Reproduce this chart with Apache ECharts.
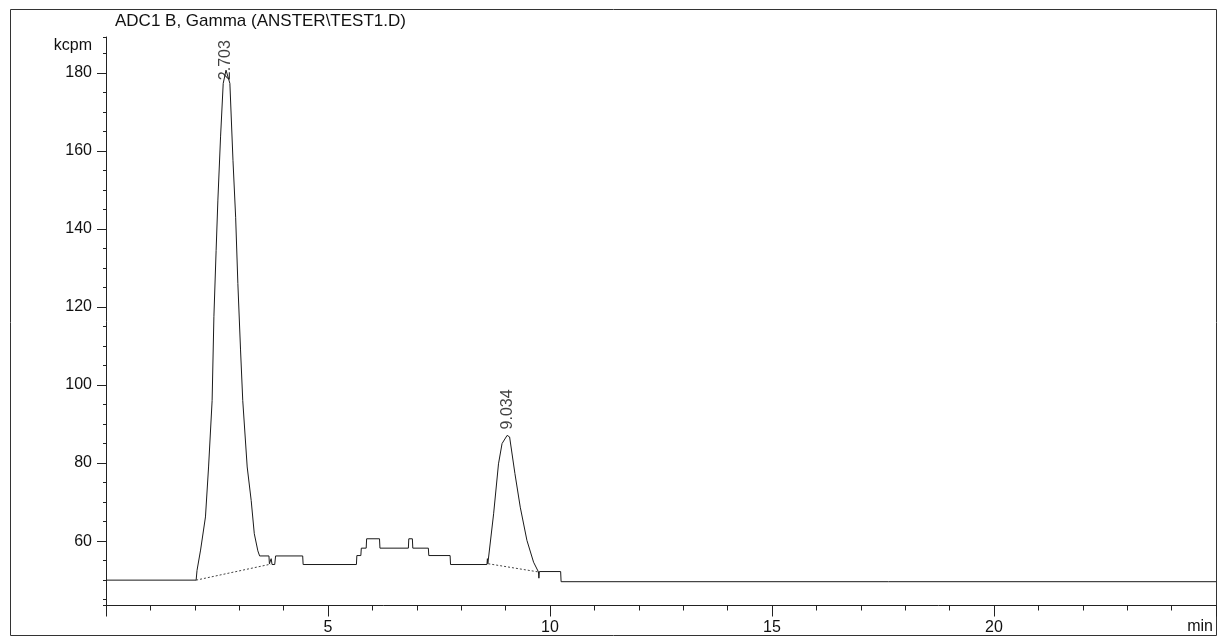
<!DOCTYPE html>
<html>
<head>
<meta charset="utf-8">
<title>ADC1 B, Gamma</title>
<script src="https://cdn.jsdelivr.net/npm/echarts@6/dist/echarts.min.js"></script>
<style>
  html, body { margin: 0; padding: 0; background: #fff; }
  #container { width: 1228px; height: 644px; }
</style>
</head>
<body>
<div id="container"></div>
<script>
// chromatogram trace, [min, kcpm]
var trace = [
  [0, 50], [2.03, 50], [2.05, 52.5], [2.13, 57.7], [2.24, 66.2], [2.31, 79],
  [2.39, 96], [2.43, 117.5], [2.48, 134.5], [2.52, 147.4], [2.58, 163.6],
  [2.64, 177.3], [2.703, 180.7], [2.79, 177.3], [2.86, 157.6], [2.92, 143],
  [2.97, 126], [3.03, 109], [3.08, 96], [3.18, 79], [3.27, 70.4], [3.34, 61.9],
  [3.42, 57.5], [3.46, 56.2], [3.67, 56.2], [3.68, 54.2], [3.72, 55.5],
  [3.74, 54.0], [3.80, 54.0], [3.82, 56.2], [4.43, 56.2], [4.44, 54.0],
  [5.64, 54.0], [5.65, 56.3], [5.74, 56.3], [5.75, 58.2], [5.86, 58.2],
  [5.87, 60.6], [6.16, 60.6], [6.17, 58.2], [6.81, 58.2], [6.82, 60.6],
  [6.90, 60.6], [6.91, 58.2], [7.26, 58.2], [7.27, 56.3], [7.75, 56.3],
  [7.76, 54.0], [8.58, 54.0], [8.59, 55.5], [8.60, 54.2], [8.73, 67],
  [8.84, 79.8], [8.92, 85], [9.034, 87.1], [9.09, 86.7], [9.21, 77.3],
  [9.33, 68.7], [9.48, 60.2], [9.63, 54.6], [9.74, 52.1], [9.75, 50.5],
  [9.76, 52.2], [10.24, 52.2], [10.25, 49.6], [25, 49.6]
];

// integration baselines
var baseline1 = [[2.03, 50], [3.71, 54.1]];
var baseline2 = [[8.61, 54.2], [9.74, 52.1]];

// peak retention times and apex heights
var peakTimes = [2.703, 9.034];
var peakHeights = [180.7, 87.1];
var peakLabels = ['2.703', '9.034'];

var FONT = 'Liberation Sans, Arial, sans-serif';
var INK = '#111';
var myChart = echarts.init(document.getElementById('container'));

var labelDist = [-10, 6];
var peakData = peakTimes.map(function (t, i) {
  return {
    value: [t, peakHeights[i]],
    label: { distance: labelDist[i] }
  };
});

var option = {
  animation: false,
  backgroundColor: '#fff',
  grid: { left: 106, right: 12, top: 37, bottom: 38.5, outerBoundsMode: 'none' },
  graphic: [
    {
      type: 'rect', silent: true,
      shape: { x: 10.5, y: 9.5, width: 1206, height: 626 },
      style: { fill: 'none', stroke: '#333', lineWidth: 1 }
    },
    {
      type: 'text', x: 115, y: 21,
      style: { text: 'ADC1 B, Gamma (ANSTER\\TEST1.D)', font: '17px ' + FONT,
               fill: INK, textVerticalAlign: 'middle' }
    },
    {
      type: 'text', x: 92, y: 46,
      style: { text: 'kcpm', font: '16px ' + FONT, fill: INK,
               textAlign: 'right', textVerticalAlign: 'middle' }
    }
  ],
  xAxis: {
    type: 'value', min: 0, max: 25, interval: 5,
    name: 'min', nameLocation: 'end', nameGap: -3,
    nameTextStyle: { fontFamily: FONT, fontSize: 16, color: INK,
                     align: 'right', verticalAlign: 'top', padding: [13, 0, 0, 0] },
    axisLine: { show: true, lineStyle: { color: '#222', width: 1 } },
    axisTick: { show: true, length: 11, lineStyle: { color: '#222' } },
    minorTick: { show: true, splitNumber: 5, length: 5, lineStyle: { color: '#222' } },
    axisLabel: { show: true, margin: 14, fontFamily: FONT, fontSize: 16, color: INK,
                 showMinLabel: false, showMaxLabel: false },
    splitLine: { show: false }
  },
  yAxis: [
    {
      type: 'value', position: 'left', min: 43.5, max: 189.2, splitNumber: 29,
      axisLine: { show: true, lineStyle: { color: '#222', width: 1 } },
      axisTick: { show: true, length: 3, lineStyle: { color: '#222' } },
      axisLabel: { show: false },
      splitLine: { show: false }
    },
    {
      type: 'value', position: 'left', min: 43.5, max: 189.2, splitNumber: 7,
      axisLine: { show: false },
      axisTick: { show: true, length: 9, lineStyle: { color: '#222' } },
      axisLabel: { show: true, margin: 14, fontFamily: FONT, fontSize: 16, color: INK,
                   showMinLabel: false, showMaxLabel: false },
      splitLine: { show: false }
    }
  ],
  series: [
    {
      type: 'line', data: trace, showSymbol: false, symbol: 'none',
      lineStyle: { color: '#1a1a1a', width: 1 }, silent: true
    },
    {
      type: 'line', data: baseline1, symbol: 'none',
      lineStyle: { color: '#444', width: 1, type: [2, 2] }, silent: true
    },
    {
      type: 'line', data: baseline2, symbol: 'none',
      lineStyle: { color: '#444', width: 1, type: [2, 2] }, silent: true
    },
    {
      type: 'scatter', data: peakData, symbolSize: 0, silent: true,
      label: {
        show: true, position: 'top', rotate: 90, align: 'left', verticalAlign: 'middle',
        fontFamily: FONT, fontSize: 16, color: INK,
        formatter: function (p) { return peakLabels[p.dataIndex]; }
      }
    }
  ]
};
myChart.setOption(option);
</script>
</body>
</html>
